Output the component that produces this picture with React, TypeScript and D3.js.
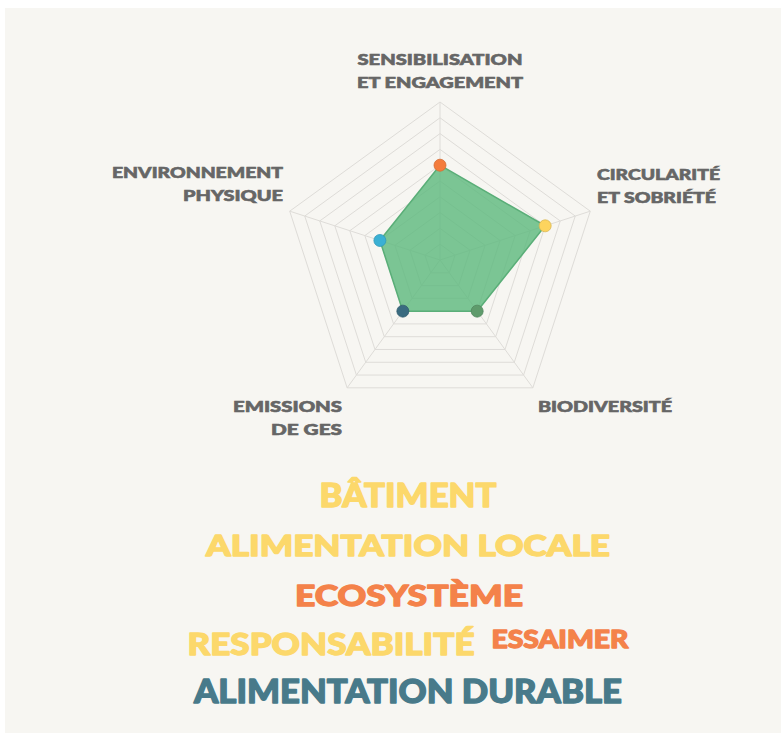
import React, { useEffect, useRef } from 'react';
import * as d3 from 'd3';

// radar data (score out of 10)
const axes = [
  ['SENSIBILISATION', 'ET ENGAGEMENT'],
  ['CIRCULARITÉ', 'ET SOBRIÉTÉ'],
  ['BIODIVERSITÉ'],
  ['EMISSIONS', 'DE GES'],
  ['ENVIRONNEMENT', 'PHYSIQUE'],
];
const scores = [6, 7, 4, 4, 4];
const dotColors = ['#f47c3c', '#fdd45e', '#5f9b6c', '#3a6b80', '#3ab0d4'];

// word cloud
const words = ['BÂTIMENT', 'ALIMENTATION LOCALE', 'ECOSYSTÈME', 'RESPONSABILITÉ', 'ESSAIMER', 'ALIMENTATION DURABLE'];
const wordColors = ['#fcd86b', '#fcd86b', '#f4824a', '#fcd86b', '#f4824a', '#487a8a'];

export default function App() {
  const ref = useRef<SVGSVGElement>(null);

  useEffect(() => {
    document.body.style.margin = '0';
    const svg = d3.select(ref.current);
    svg.selectAll('*').remove();

    const width = 781;
    const height = 733;
    const cx = 440;
    const cy = 260;
    const R = 158;
    const levels = 10;

    svg.append('rect')
      .attr('x', 5).attr('y', 8)
      .attr('width', width - 5).attr('height', height - 8)
      .attr('fill', '#f7f6f2');

    const angle = d3.scaleLinear().domain([0, axes.length]).range([0, 2 * Math.PI]);
    const r = d3.scaleLinear().domain([0, levels]).range([0, R]);

    const g = svg.append('g').attr('transform', `translate(${cx},${cy})`);

    const radial = d3.lineRadial<number>()
      .angle((d, i) => angle(i))
      .radius(d => r(d))
      .curve(d3.curveLinearClosed);

    // rings
    d3.range(1, levels + 1).forEach(l => {
      g.append('path')
        .attr('d', radial(axes.map(() => l)))
        .attr('fill', 'none')
        .attr('stroke', '#dedcd8')
        .attr('stroke-width', 1);
    });

    // spokes
    axes.forEach((a, i) => {
      const a0 = angle(i);
      g.append('line')
        .attr('x1', 0).attr('y1', 0)
        .attr('x2', r(levels) * Math.sin(a0))
        .attr('y2', -r(levels) * Math.cos(a0))
        .attr('stroke', '#dedcd8')
        .attr('stroke-width', 1);
    });

    // area
    g.append('path')
      .attr('d', radial(scores))
      .attr('fill', '#5fb97f')
      .attr('fill-opacity', 0.82)
      .attr('stroke', '#5aae78')
      .attr('stroke-width', 1.5);

    // dots
    g.selectAll('circle.dot').data(scores).enter()
      .append('circle')
      .attr('cx', (d, i) => r(d) * Math.sin(angle(i)))
      .attr('cy', (d, i) => -r(d) * Math.cos(angle(i)))
      .attr('r', 6)
      .attr('fill', (d, i) => dotColors[i])
      .attr('stroke', (d, i) => d3.color(dotColors[i])!.darker(0.4).toString())
      .attr('stroke-width', 0.8);

    // axis labels (layout: anchor point, first baseline, line widths)
    const labelPos = [
      { x: 440, y: 65, anchor: 'middle', w: [165, 166] },
      { x: 597, y: 180, anchor: 'start', w: [123, 119] },
      { x: 538, y: 412, anchor: 'start', w: [134] },
      { x: 342, y: 412, anchor: 'end', w: [109, 71] },
      { x: 283, y: 178, anchor: 'end', w: [171, 100] },
    ];
    axes.forEach((lines, i) => {
      const p = labelPos[i];
      lines.forEach((ln, j) => {
        svg.append('text')
          .attr('x', p.x).attr('y', p.y + j * 22.5)
          .attr('text-anchor', p.anchor)
          .attr('textLength', p.w[j])
          .attr('lengthAdjust', 'spacingAndGlyphs')
          .attr('font-family', 'Lato, sans-serif')
          .attr('font-weight', 900)
          .attr('font-size', 14.5)
          .attr('fill', '#666666')
          .attr('stroke', '#666666')
          .attr('stroke-width', 0.6)
          .text(ln);
      });
    });

    // word cloud
    const wordLayout = [
      { x: 408, y: 507, size: 32, w: 177 },
      { x: 408, y: 556, size: 29, w: 404 },
      { x: 409, y: 606, size: 29, w: 228 },
      { x: 331, y: 655, size: 30, w: 287 },
      { x: 560, y: 648, size: 25, w: 137 },
      { x: 408, y: 703, size: 32, w: 428 },
    ];
    words.forEach((w, i) => {
      const p = wordLayout[i];
      svg.append('text')
        .attr('x', p.x - p.w / 2)
        .attr('y', p.y)
        .attr('textLength', p.w)
        .attr('lengthAdjust', 'spacingAndGlyphs')
        .attr('font-family', 'Lato, sans-serif')
        .attr('font-weight', 900)
        .attr('font-size', p.size)
        .attr('fill', wordColors[i])
        .attr('stroke', wordColors[i])
        .attr('stroke-width', 1.3)
        .attr('stroke-linejoin', 'round')
        .text(w);
    });
  }, []);

  return <svg ref={ref} width={781} height={733} style={{ display: 'block' }} />;
}
